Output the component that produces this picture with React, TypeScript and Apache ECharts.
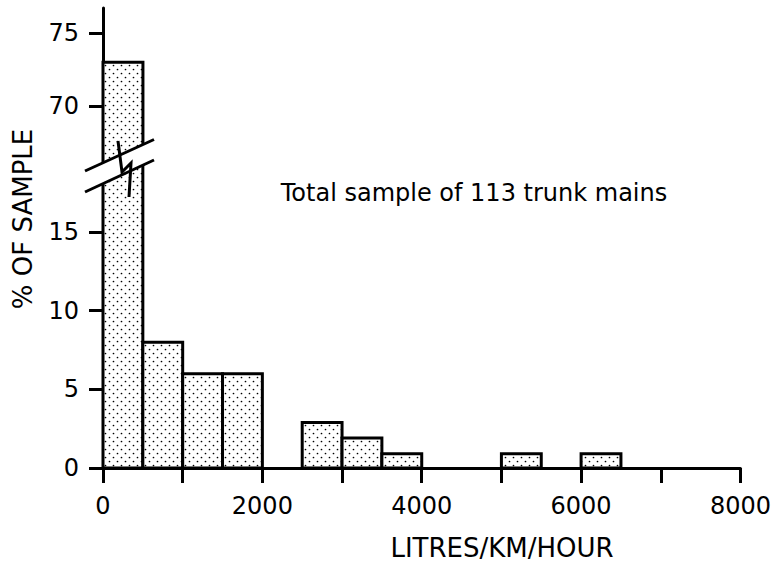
import React, { useEffect, useRef } from "react";
import * as echarts from "echarts";

const binStarts = [0, 500, 1000, 1500, 2000, 2500, 3000, 3500, 4000, 4500, 5000, 5500, 6000];
const binWidth = 500;
const percentValues = [73, 8, 6, 6, 0, 2.9, 1.9, 0.9, 0, 0, 0.9, 0, 0.9];
const xTickLabels = [0, 2000, 4000, 6000, 8000];
const yLowerTicks = [0, 5, 10, 15];
const yUpperTicks = [70, 75];
const annotation = "Total sample of 113 trunk mains";
const xName = "LITRES/KM/HOUR";
const yName = "% OF SAMPLE";

const FONT = "DejaVu Sans";

function makePattern() {
  const c = document.createElement("canvas");
  c.width = 8;
  c.height = 8;
  const ctx = c.getContext("2d")!;
  ctx.fillStyle = "#fff";
  ctx.fillRect(0, 0, 8, 8);
  ctx.fillStyle = "#000";
  ctx.beginPath();
  ctx.arc(1.5, 1.5, 0.85, 0, Math.PI * 2);
  ctx.arc(5.5, 5.5, 0.85, 0, Math.PI * 2);
  ctx.fill();
  return { image: c, repeat: "repeat", imageWidth: 8, imageHeight: 8 } as any;
}

export default function App() {
  const ref = useRef<HTMLDivElement>(null);
  useEffect(() => {
    document.body.style.margin = "0";
    if (!ref.current) return;
    const chart = echarts.init(ref.current, null, { renderer: "svg" });
    const pattern = makePattern();
    const data = binStarts.map((s, i) => [s, s + binWidth, percentValues[i]]);

    const renderItem = (params: any, api: any) => {
      const x0 = api.value(0);
      const x1 = api.value(1);
      const v = api.value(2);
      if (!v) return null;
      const p0 = api.coord([x0, v]);
      const p1 = api.coord([x1, 0]);
      const cs = params.coordSys;
      const rect = echarts.graphic.clipRectByRect(
        { x: p0[0], y: p0[1], width: p1[0] - p0[0], height: p1[1] - p0[1] },
        { x: cs.x, y: cs.y, width: cs.width, height: cs.height }
      );
      if (!rect) return null;
      return {
        type: "rect",
        shape: rect,
        style: { fill: pattern, stroke: "#000", lineWidth: 3 },
      };
    };

    const axisLine = { show: true, lineStyle: { color: "#000", width: 3 } };
    const labelStyle = {
      color: "#000",
      fontFamily: FONT,
      fontSize: 24,
      formatter: (v: number) => String(v),
    };

    chart.setOption({
      animation: false,
      backgroundColor: "#fff",
      grid: [
        { left: 103, right: 32, top: 164, bottom: 94 },
        { left: 103, right: 32, top: 8, bottom: 398 },
      ],
      xAxis: [
        {
          type: "value",
          gridIndex: 0,
          min: 0,
          max: 8000,
          interval: 1000,
          axisLine,
          axisTick: { show: true, length: 15, lineStyle: { color: "#000", width: 3 } },
          axisLabel: { ...labelStyle, margin: 26, customValues: xTickLabels },
          splitLine: { show: false },
        },
        {
          type: "value",
          gridIndex: 1,
          min: 0,
          max: 8000,
          show: false,
        },
      ],
      yAxis: [
        {
          type: "value",
          gridIndex: 0,
          min: 0,
          max: 19.33,
          axisLine,
          axisTick: {
            show: true,
            length: 14,
            customValues: yLowerTicks,
            lineStyle: { color: "#000", width: 3 },
          },
          axisLabel: { ...labelStyle, margin: 24, customValues: yLowerTicks },
          splitLine: { show: false },
        },
        {
          type: "value",
          gridIndex: 1,
          min: 66.03,
          max: 76.71,
          axisLine,
          axisTick: {
            show: true,
            length: 14,
            customValues: yUpperTicks,
            lineStyle: { color: "#000", width: 3 },
          },
          axisLabel: { ...labelStyle, margin: 24, customValues: yUpperTicks },
          splitLine: { show: false },
        },
      ],
      series: [
        {
          type: "custom",
          xAxisIndex: 0,
          yAxisIndex: 0,
          data,
          encode: { x: [0, 1], y: 2 },
          renderItem,
        },
        {
          type: "custom",
          xAxisIndex: 1,
          yAxisIndex: 1,
          data,
          encode: { x: [0, 1], y: 2 },
          renderItem,
        },
      ],
      graphic: {
        elements: [
          {
            type: "polygon",
            z: 100,
            shape: { points: [[85, 171], [154, 139.5], [154, 160], [85, 192]] },
            style: { fill: "#fff", stroke: null },
          },
          {
            type: "line",
            z: 101,
            shape: { x1: 85, y1: 171, x2: 154, y2: 139.5 },
            style: { stroke: "#000", lineWidth: 3 },
          },
          {
            type: "line",
            z: 101,
            shape: { x1: 85, y1: 192, x2: 154, y2: 160 },
            style: { stroke: "#000", lineWidth: 3 },
          },
          {
            type: "polyline",
            z: 102,
            shape: { points: [[118, 141], [122, 172], [131, 163], [129, 197]] },
            style: { stroke: "#000", lineWidth: 3, fill: null },
          },
          {
            type: "text",
            z: 100,
            x: 474,
            y: 193,
            style: {
              text: annotation,
              fill: "#000",
              font: `24px "${FONT}"`,
              align: "center",
              verticalAlign: "middle",
            },
          },
          {
            type: "text",
            z: 100,
            x: 502,
            y: 548,
            style: {
              text: xName,
              fill: "#000",
              font: `26px "${FONT}"`,
              align: "center",
              verticalAlign: "middle",
            },
          },
          {
            type: "text",
            z: 100,
            x: 23,
            y: 219,
            rotation: Math.PI / 2,
            style: {
              text: yName,
              fill: "#000",
              font: `26px "${FONT}"`,
              align: "center",
              verticalAlign: "middle",
            },
          },
        ],
      },
    });
    return () => chart.dispose();
  }, []);
  return <div ref={ref} style={{ width: 774, height: 562 }} />;
}
